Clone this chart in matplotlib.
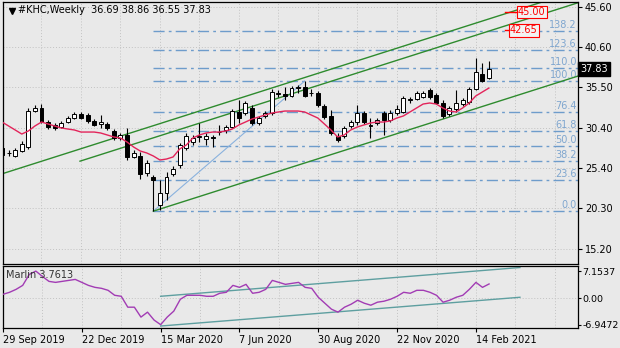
import matplotlib.pyplot as plt
import matplotlib.transforms as mtransforms
import numpy as np

# weekly candles, 29 Sep 2019 .. 28 Feb 2021
opens = [27.89, 27.30, 26.88, 27.51, 28.01, 32.53, 32.91, 31.15, 30.78, 30.52,
         31.15, 31.65, 32.16, 32.03, 31.28, 30.90, 30.90, 30.02, 29.14, 29.52,
         26.76, 26.88, 24.75, 24.24, 20.72, 22.23, 24.62, 25.75, 27.89, 28.64,
         29.27, 29.01, 29.27, 29.85, 30.15, 30.52, 32.41, 32.28, 32.91, 31.03,
         31.91, 32.28, 34.67, 34.67, 34.42, 35.42, 35.55, 34.80, 34.80, 33.16,
         31.91, 29.39, 29.39, 30.65, 31.15, 32.28, 30.65, 31.03, 32.28, 31.40,
         32.28, 32.41, 33.92, 34.04, 34.29, 35.17, 34.54, 33.54, 32.16, 32.79,
         33.41, 33.66, 35.30, 37.18, 36.69]
highs = [28.14, 27.64, 27.89, 28.76, 32.91, 33.29, 33.41, 31.40, 31.03, 31.28,
         31.91, 32.41, 32.41, 32.28, 31.53, 32.03, 31.15, 30.27, 29.77, 30.40,
         27.64, 27.38, 26.38, 24.49, 23.87, 24.87, 25.62, 28.51, 29.77, 29.52,
         31.03, 29.77, 29.52, 30.78, 30.78, 32.79, 33.92, 33.79, 33.29, 31.91,
         32.53, 35.30, 35.17, 35.55, 35.67, 35.80, 36.30, 35.30, 35.05, 33.41,
         32.66, 29.77, 30.65, 31.40, 33.29, 32.53, 31.65, 31.65, 32.53, 32.66,
         33.29, 34.42, 34.29, 35.05, 35.05, 35.42, 34.80, 33.92, 33.16, 35.17,
         34.17, 35.55, 39.19, 38.56, 38.86]
lows = [26.50, 26.88, 26.76, 27.38, 27.76, 32.41, 31.03, 30.27, 30.15, 30.40,
        31.03, 31.53, 31.53, 31.03, 30.65, 30.40, 30.15, 28.89, 28.89, 26.38,
        26.63, 23.99, 24.37, 19.95, 20.09, 21.35, 24.37, 25.37, 27.64, 28.26,
        28.64, 28.26, 28.01, 29.52, 29.77, 30.40, 31.03, 32.03, 30.78, 30.78,
        31.65, 32.03, 34.29, 33.92, 34.29, 34.80, 34.29, 34.42, 33.04, 31.53,
        29.52, 28.64, 29.14, 30.40, 30.78, 30.90, 29.14, 30.78, 29.52, 31.15,
        32.03, 32.28, 33.54, 33.92, 34.17, 34.04, 33.41, 31.65, 31.91, 32.41,
        33.16, 33.41, 35.17, 36.18, 36.55]
closes = [27.01, 27.20, 27.64, 28.39, 32.53, 32.85, 31.15, 30.52, 30.40, 31.03,
          31.65, 32.16, 31.65, 31.28, 30.78, 31.15, 30.40, 29.14, 29.52, 26.76,
          27.26, 24.62, 26.00, 23.87, 22.23, 24.24, 25.25, 28.26, 29.39, 29.14,
          29.35, 29.39, 29.14, 29.95, 30.52, 32.53, 31.65, 33.54, 31.03, 31.65,
          32.28, 34.92, 34.75, 34.42, 35.42, 35.55, 34.42, 34.75, 33.29, 31.78,
          29.77, 28.89, 30.40, 31.15, 32.28, 31.15, 30.72, 31.40, 31.40, 32.28,
          32.79, 34.17, 33.98, 34.80, 34.80, 34.29, 33.54, 31.91, 32.91, 33.54,
          33.92, 35.30, 37.43, 36.30, 37.83]
ma_line = [31.15, 30.65, 30.15, 29.64, 30.02, 30.65, 31.15, 30.90, 30.65, 30.40,
           30.27, 30.15, 29.89, 29.89, 29.89, 29.77, 29.52, 29.27, 29.14, 28.64,
           28.01, 27.51, 27.26, 26.88, 26.38, 26.50, 26.76, 27.76, 28.26, 29.14,
           29.52, 29.77, 29.89, 29.89, 30.02, 30.27, 30.78, 31.15, 31.53, 31.78,
           32.03, 32.28, 32.41, 32.53, 32.53, 32.53, 32.41, 32.03, 31.65, 30.90,
           30.15, 29.27, 29.52, 30.15, 30.52, 30.78, 31.03, 31.15, 31.15, 31.28,
           31.65, 31.91, 32.41, 32.91, 33.41, 33.54, 33.41, 32.91, 32.53, 32.41,
           32.91, 33.54, 34.42, 34.92, 35.42]
marlin = [1.04, 1.57, 2.35, 3.39, 6.27, 7.15, 5.74, 4.44, 4.18, 4.44,
          4.70, 4.96, 4.18, 3.39, 2.87, 2.61, 2.09, 0.78, 0.52, -2.35,
          -2.35, -4.96, -3.66, -5.74, -6.95, -4.96, -3.39, -0.26, 0.78, 0.78,
          0.78, 0.52, 0.52, 1.31, 1.57, 3.39, 2.87, 3.66, 1.31, 1.57,
          2.35, 4.70, 4.18, 3.66, 3.92, 4.18, 2.87, 2.61, 0.26, -1.31,
          -2.87, -3.66, -2.35, -1.57, -0.52, -1.31, -1.83, -1.04, -0.78, -0.26,
          0.52, 1.57, 1.31, 2.09, 2.09, 1.57, 0.78, -1.04, -0.52, 0.26,
          0.78, 2.35, 4.18, 2.87, 3.76]

date_pos = [0, 12, 24, 36, 48, 60, 72]
date_labels = ['29 Sep 2019', '22 Dec 2019', '15 Mar 2020', '7 Jun 2020',
               '30 Aug 2020', '22 Nov 2020', '14 Feb 2021']
price_ticks = [45.60, 40.60, 35.50, 30.40, 25.40, 20.30, 15.20]
marlin_ticks = [7.1537, 0.00, -6.9472]
marlin_tick_labels = ['7.1537', '0.00', '-6.9472']

fib_levels = [0.0, 23.6, 38.2, 50.0, 61.8, 76.4, 100.0, 110.0, 123.6, 138.2]
fib_start, fib_end = 23, 46
fib_low, fib_high = 19.95, 36.30

# channel: (week, price) anchors, same slope
chan_slope = 0.263
chan_upper = (0, 24.64)
chan_mid = (11.85, 26.23)
chan_low = (23, 19.95)

targets = [45.00, 42.65]
target_pos = [(76.4, 78.4, 80.5), (76.4, 77.2, 79.3)]

marlin_up = [(24, 0.52), (78.7, 8.09)]
marlin_dn = [(24, -7.31), (78.7, 0.26)]

bg = '#E9E9E9'
grid_c = '#C2C2C2'
fib_c = '#6E9CCB'

fig = plt.figure(figsize=(6.2, 3.48), dpi=100, facecolor=bg)
ax = fig.add_axes([3 / 620, 1 - 264 / 348, 575 / 620, 262 / 348], facecolor=bg)
ax2 = fig.add_axes([3 / 620, 1 - 328 / 348, 575 / 620, 62 / 348], facecolor=bg)

x = np.arange(len(closes))
xlim = (0.15, 87.54)

# grid
for g in range(0, 90, 6):
    ax.axvline(g, color=grid_c, lw=0.7, ls=(0, (1, 2)), zorder=0)
    ax2.axvline(g, color=grid_c, lw=0.7, ls=(0, (1, 2)), zorder=0)
for p in price_ticks:
    ax.axhline(p, color=grid_c, lw=0.7, ls=(0, (1, 2)), zorder=0)
ax2.axhline(0, color=grid_c, lw=0.7, ls=(0, (1, 2)), zorder=0)

# fibo levels
rng = fib_high - fib_low
for lv in fib_levels:
    p = fib_low + rng * lv / 100
    ax.plot([fib_start, xlim[1]], [p, p], color=fib_c, lw=1, ls=(0, (8, 3, 2, 3)), zorder=1)
    ax.text(xlim[1] - 0.15, p + 0.12, f'{lv:.1f}', color='#7FA6CF', fontsize=7,
            ha='right', va='bottom', zorder=2)
ax.plot([fib_start, fib_end], [fib_low, fib_high], color='#8AB2DE', lw=0.8, zorder=1)

# channel
for x0, p0 in [chan_upper, chan_mid, chan_low]:
    xa = np.array([max(x0, -1), 90])
    ax.plot(xa, p0 + chan_slope * (xa - x0), color='#2E8B2E', lw=1, zorder=2)

# targets
for t, (xa, xb, xt) in zip(targets, target_pos):
    ax.plot([xa, xb], [t, t], color='red', lw=1, zorder=3)
    ax.text(xt, t, f'{t:.2f}', color='red', fontsize=7, ha='center', va='center', zorder=4,
            bbox=dict(facecolor='#F3F3F3', edgecolor='red', lw=0.8, pad=0.8))

# candles
ax.vlines(x, lows, highs, color='black', lw=0.8, zorder=4)
o = np.array(opens)
c = np.array(closes)
h = np.maximum(np.abs(c - o), 0.04)
face = ['white' if cc >= oo else 'black' for oo, cc in zip(o, c)]
ax.bar(x, h, bottom=np.minimum(o, c), width=0.6, color=face, edgecolor='black',
       linewidth=0.7, zorder=5)

ax.plot(x, ma_line, color='#E3245A', lw=1, zorder=6)

ax.set_xlim(*xlim)
ax.set_ylim(13.31, 46.23)
ax.set_xticks([])
ax.yaxis.tick_right()
ax.set_yticks(price_ticks)
ax.set_yticklabels([f'{p:.2f}' for p in price_ticks])
ax.tick_params(axis='y', direction='out', length=3, labelsize=7, pad=2, width=0.8)

ax.plot(0.015, 0.966, marker='v', ms=4, color='black', transform=ax.transAxes, clip_on=False)
ax.text(0.026, 0.968, '#KHC,Weekly  36.69 38.86 36.55 37.83', transform=ax.transAxes,
        fontsize=7, va='center', ha='left', color='black')

tr = mtransforms.blended_transform_factory(ax.transAxes, ax.transData)
ax.text(1.004, closes[-1], f'{closes[-1]:.2f}', transform=tr, color='white', fontsize=7,
        ha='left', va='center', clip_on=False, zorder=10,
        bbox=dict(facecolor='black', edgecolor='black', pad=1.5))

# lower panel
ax2.plot(x, marlin, color='#A23CB4', lw=1, zorder=3)
for seg in [marlin_up, marlin_dn]:
    ax2.plot([seg[0][0], seg[1][0]], [seg[0][1], seg[1][1]], color='#5E9FA0', lw=1, zorder=2)
ax2.set_xlim(*xlim)
ax2.set_ylim(-7.83, 8.49)
ax2.yaxis.tick_right()
ax2.set_yticks(marlin_ticks)
ax2.set_yticklabels(marlin_tick_labels)
ax2.tick_params(axis='y', direction='out', length=2, labelsize=6.8, pad=1, width=0.8)
ax2.set_xticks(date_pos)
ax2.set_xticklabels(date_labels)
ax2.tick_params(axis='x', direction='out', length=3, labelsize=7, pad=2, width=0.8)
for lbl in ax2.get_xticklabels():
    lbl.set_ha('left')
ax2.text(0.005, 0.86, 'Marlin 3.7613', transform=ax2.transAxes, fontsize=7,
         va='center', ha='left', color='#333333')

for a in (ax, ax2):
    for s in a.spines.values():
        s.set_linewidth(0.9)
        s.set_color('black')

fig.savefig('out.png', dpi=100, facecolor=bg)
